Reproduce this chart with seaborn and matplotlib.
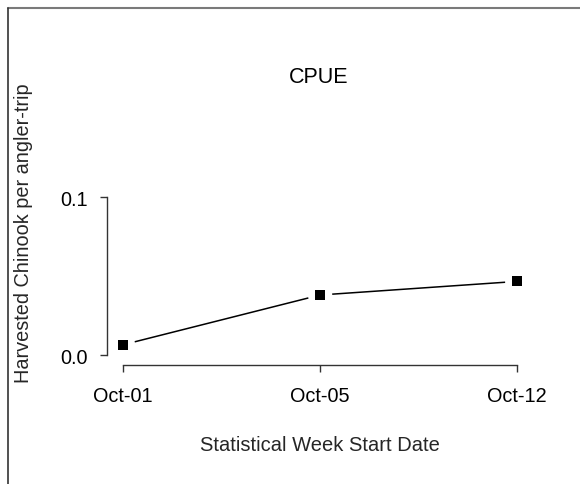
import matplotlib
matplotlib.use("Agg")
import matplotlib.pyplot as plt
import matplotlib.lines as mlines
import seaborn as sns
import pandas as pd

weeks = ["Oct-01", "Oct-05", "Oct-12"]
cpue = [0.0065, 0.038, 0.0466]
y_ticks = [0.0, 0.1]
y_tick_labels = ["0.0", "0.1"]
title = "CPUE"
x_label = "Statistical Week Start Date"
y_label = "Harvested Chinook per angler-trip"

df = pd.DataFrame({"week": weeks, "cpue": cpue})

sns.set_style("white")
plt.rcParams["font.family"] = ["Liberation Sans", "DejaVu Sans"]

W, H = 580, 485
fig = plt.figure(figsize=(W / 100, H / 100), dpi=100)
left, right, top, bottom = 107.2, 533.0, 191.7, 366.0
ax = fig.add_axes([left / W, 1 - bottom / H, (right - left) / W, (bottom - top) / H])

sns.lineplot(data=df, x="week", y="cpue", ax=ax, color="black", linewidth=1.1,
             sort=False, zorder=2)
sns.scatterplot(data=df, x="week", y="cpue", ax=ax, marker="o", s=17.5 ** 2,
                color="white", edgecolor="none", linewidth=0, zorder=3)
sns.scatterplot(data=df, x="week", y="cpue", ax=ax, marker="s", s=7.3 ** 2,
                color="black", edgecolor="none", linewidth=0, zorder=4)

ax.set_xlim(-0.08, 2.08)
ax.set_ylim(-0.0063, 0.104)
ax.set_yticks(y_ticks)
ax.set_yticklabels(y_tick_labels)

for s in ["top", "right"]:
    ax.spines[s].set_visible(False)
for s in ["left", "bottom"]:
    ax.spines[s].set_color("#333333")
    ax.spines[s].set_linewidth(1.0)
ax.spines["left"].set_bounds(0.0, 0.1)
ax.spines["bottom"].set_bounds(0, 2)

ax.tick_params(axis="both", direction="out", length=5, width=1.0, color="#333333",
               labelsize=14.3, labelcolor="black", left=True, bottom=True)
ax.tick_params(axis="y", pad=9)
ax.tick_params(axis="x", pad=10)

ax.text(0.497, (bottom - 77) / (bottom - top), title, transform=ax.transAxes,
        fontsize=15.5, ha="center", va="center", color="black")

ax.set_xlabel(x_label, fontsize=14.5)
ax.xaxis.set_label_coords(0.5, -(446 - bottom) / (bottom - top))
ax.xaxis.label.set_va("center")
ax.set_ylabel(y_label, fontsize=14.3)
ax.yaxis.set_label_coords((24 - left) / (right - left), (bottom - 233) / (bottom - top))
ax.yaxis.label.set_va("center")

# figure frame (top and left edges visible in reference)
fig.add_artist(mlines.Line2D([8 / W, 1], [1 - 8.5 / H, 1 - 8.5 / H],
                             transform=fig.transFigure, color="#7a7a7a", linewidth=1.5))
fig.add_artist(mlines.Line2D([8 / W, 8 / W], [0, 1 - 8.5 / H],
                             transform=fig.transFigure, color="#333333", linewidth=1.2))

fig.savefig("out.png", dpi=100)
